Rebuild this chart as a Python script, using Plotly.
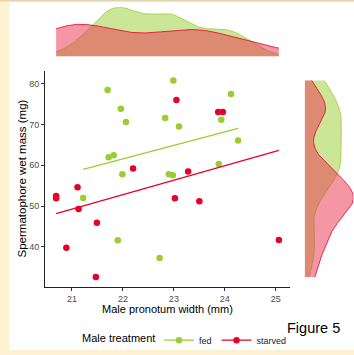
import numpy as np
import plotly.graph_objects as go

# ---- data ----
fed_x = [21.70, 21.96, 22.06, 21.72, 21.82, 21.99, 21.22, 22.99, 22.83, 23.10,
         24.12, 23.93, 24.26, 23.88, 22.90, 22.98, 21.90, 22.72]
fed_y = [78.5, 73.9, 70.6, 62.0, 62.5, 57.8, 52.0, 80.8, 71.6, 69.5,
         77.5, 71.2, 66.1, 60.3, 57.8, 57.6, 41.6, 37.3]
starved_x = [20.69, 20.69, 21.11, 22.20, 23.02, 23.05, 23.87, 23.96, 23.28, 23.50,
             21.13, 21.49, 20.89, 21.47, 25.06]
starved_y = [52.5, 51.9, 54.6, 59.2, 51.9, 76.0, 73.1, 73.1, 58.5, 51.2,
             49.3, 45.9, 39.8, 32.6, 41.7]
groups = ["fed", "starved"]
x_ticks = [21, 22, 23, 24, 25]
y_ticks = [40, 50, 60, 70, 80]

GREEN = "#9ACD32"
RED = "#E8002B"
GREEN_FILL = "rgba(154,205,50,0.5)"
RED_FILL = "rgba(235,45,75,0.5)"

W, H = 354, 355
def fx(p):
    return p / W
def fy(p):
    return 1 - p / H

allx = np.array(fed_x + starved_x)
ally = np.array(fed_y + starved_y)
def expand(a):
    lo, hi = a.min(), a.max()
    r = hi - lo
    return [lo - 0.05 * r, hi + 0.05 * r]
xr = expand(allx)
yr = expand(ally)

def bw_nrd0(v):
    v = np.asarray(v)
    sd = v.std(ddof=1)
    q75, q25 = np.percentile(v, [75, 25])
    iqr = (q75 - q25) / 1.34
    lo = min(sd, iqr) if iqr > 0 else sd
    return 0.9 * lo * len(v) ** (-0.2)

def kde(v, grid):
    v = np.asarray(v)
    h = bw_nrd0(v)
    z = (grid[:, None] - v[None, :]) / h
    return np.exp(-0.5 * z ** 2).sum(axis=1) / (len(v) * h * np.sqrt(2 * np.pi))

gx = np.linspace(allx.min(), allx.max(), 512)
gy = np.linspace(ally.min(), ally.max(), 512)
dens_x = {"fed": kde(fed_x, gx), "starved": kde(starved_x, gx)}
dens_y = {"fed": kde(fed_y, gy), "starved": kde(starved_y, gy)}
maxdx = max(d.max() for d in dens_x.values())
maxdy = max(d.max() for d in dens_y.values())

fig = go.Figure()

data = {"fed": (fed_x, fed_y, GREEN, GREEN_FILL), "starved": (starved_x, starved_y, RED, RED_FILL)}

for g in groups:
    xs, ys, col, fill = data[g]
    fig.add_trace(go.Scatter(x=xs, y=ys, mode="markers", name=g, legendgroup=g,
                             marker=dict(color=col, size=6.5), showlegend=False,
                             xaxis="x", yaxis="y"))
    k, b = np.polyfit(np.array(xs), np.array(ys), 1)
    lx = np.array([min(xs), max(xs)])
    fig.add_trace(go.Scatter(x=lx, y=k * lx + b, mode="lines", name=g, legendgroup=g,
                             line=dict(color=col, width=1.3),
                             showlegend=False, xaxis="x", yaxis="y"))
    # legend entry
    fig.add_trace(go.Scatter(x=[None], y=[None], mode="lines+markers", name=g, legendgroup=g,
                             line=dict(color=col, width=1.3), marker=dict(color=col, size=6.5),
                             xaxis="x", yaxis="y"))
    # top marginal density
    fig.add_trace(go.Scatter(x=gx, y=dens_x[g], mode="lines", fill="tozeroy",
                             fillcolor=fill, line=dict(color=col, width=0.8),
                             showlegend=False, xaxis="x2", yaxis="y2", hoverinfo="skip"))
    # right marginal density
    fig.add_trace(go.Scatter(x=dens_y[g], y=gy, mode="lines", fill="tozerox",
                             fillcolor=fill, line=dict(color=col, width=0.8),
                             showlegend=False, xaxis="x3", yaxis="y3", hoverinfo="skip"))

axis_common = dict(showgrid=False, zeroline=False, showline=True, linecolor="#222222",
                   linewidth=1.1, ticks="outside", ticklen=3, tickcolor="#333333",
                   tickfont=dict(family="Liberation Sans, Arial", size=9, color="#4D4D4D"))

fig.update_layout(
    width=W, height=H,
    margin=dict(l=0, r=0, t=0, b=0),
    paper_bgcolor="#FFF2D2",
    plot_bgcolor="rgba(0,0,0,0)",
    font=dict(family="Liberation Sans, Arial", color="black"),
    xaxis=dict(domain=[fx(45), fx(290)], range=xr, tickvals=x_ticks, anchor="y", **axis_common),
    yaxis=dict(domain=[fy(291), fy(71.7)], range=yr, tickvals=y_ticks, anchor="x", **axis_common),
    xaxis2=dict(domain=[fx(45), fx(290)], range=xr, visible=False, anchor="y2"),
    yaxis2=dict(domain=[fy(57.3), fy(7.3)], range=[0, maxdx], visible=False, anchor="x2"),
    xaxis3=dict(domain=[fx(304.7), fx(353.5)], range=[0, maxdy], visible=False, anchor="y3"),
    yaxis3=dict(domain=[fy(291), fy(71.7)], range=yr, visible=False, anchor="x3"),
    showlegend=True,
    legend=dict(orientation="h", x=fx(159), xanchor="left", y=fy(345), yanchor="middle",
                bgcolor="rgba(0,0,0,0)", font=dict(size=9, color="#222222"),
                itemwidth=30, tracegroupgap=0),
    shapes=[
        dict(type="rect", xref="paper", yref="paper", x0=fx(9), x1=1, y0=0, y1=fy(1.5),
             fillcolor="white", line=dict(width=0), layer="below"),
        dict(type="rect", xref="paper", yref="paper", x0=0, x1=1, y0=fy(1.5), y1=1,
             fillcolor="#E2D3AE", line=dict(width=0), layer="below"),
    ],
    annotations=[
        dict(text="Spermatophore wet mass (mg)", xref="paper", yref="paper", x=fx(22), y=fy(181),
             textangle=-90, showarrow=False, font=dict(size=11.5, color="black"),
             xanchor="center", yanchor="middle"),
        dict(text="Male pronotum width (mm)", xref="paper", yref="paper", x=fx(167.5), y=fy(313.5),
             showarrow=False, font=dict(size=11, color="black"), xanchor="center", yanchor="middle"),
        dict(text="Figure 5", xref="paper", yref="paper", x=fx(342), y=fy(333),
             showarrow=False, font=dict(size=14.5, color="black"), xanchor="right", yanchor="middle"),
        dict(text="Male treatment", xref="paper", yref="paper", x=fx(157), y=fy(343),
             showarrow=False, font=dict(size=11, color="black"), xanchor="right", yanchor="middle"),
    ],
)

fig.write_html("out.html", config={"displayModeBar": False},
               post_script="document.body.style.margin='0';document.body.style.overflow='hidden';")
